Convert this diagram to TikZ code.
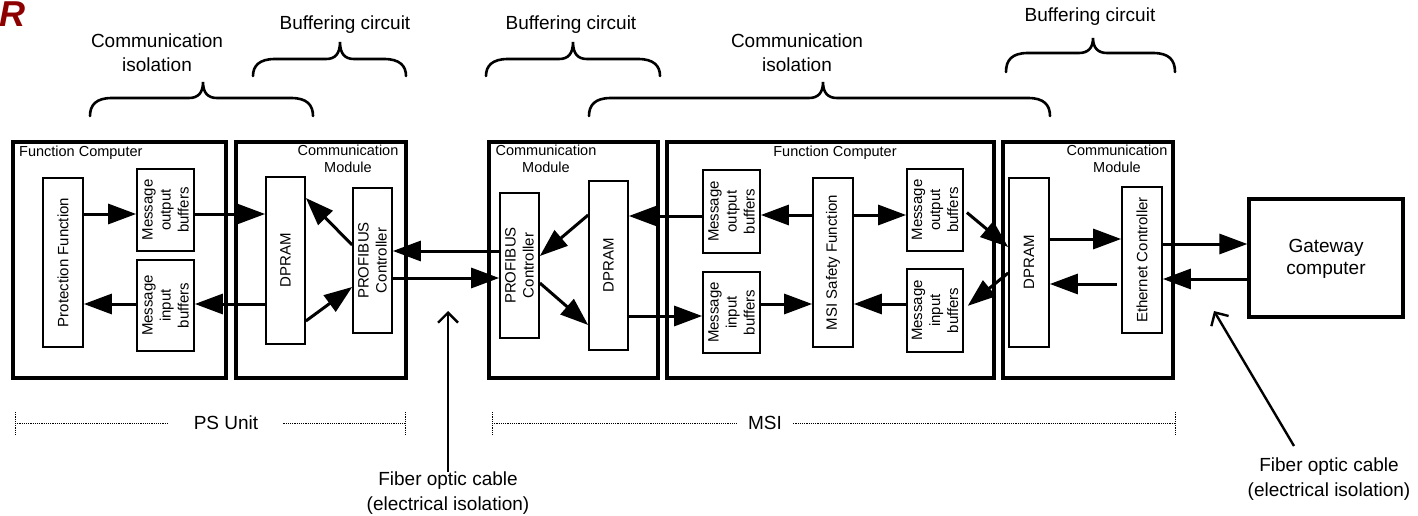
\documentclass[tikz,border=0pt]{standalone}
\usepackage{fontspec}
\setmainfont{Liberation Sans}
\usetikzlibrary{arrows.meta}
\definecolor{darkR}{RGB}{140,0,0}
\newcommand\bracedraw[6]{\draw[bracestyle] (#1,#4) .. controls (#1,#5+7) and (#1+6,#5) .. (#1+22,#5) -- (#3-14,#5) .. controls (#3-5,#5) and (#3,#5-5) .. (#3,#6) .. controls (#3,#5-5) and (#3+5,#5) .. (#3+14,#5) -- (#2-22,#5) .. controls (#2-6,#5) and (#2,#5+7) .. (#2,#4);}
\begin{document}
\begin{tikzpicture}[x=1pt,y=-1pt,line join=miter,
  obox/.style={draw,line width=3.2pt,inner sep=0pt},
  ibox/.style={draw,line width=1.7pt,inner sep=0pt},
  arr/.style={line width=3pt,-{Triangle[length=28pt,width=20pt]}},
  fib/.style={line width=2.4pt,-{Straight Barb[length=10pt,width=20pt]}},
  vtext/.style={rotate=90,align=center,inner sep=0pt,font=\fontsize{15}{18}\selectfont},
  small/.style={align=center,inner sep=0pt,font=\fontsize{14.5}{16.5}\selectfont},
  big/.style={align=center,inner sep=0pt,font=\fontsize{19}{24.5}\selectfont},
  bracestyle/.style={line width=2.6pt,line cap=round},
  dotl/.style={line width=1pt,dash pattern=on 1.2pt off 1pt}]
\useasboundingbox (0,0) rectangle (1418,516);

% corner letter
\node[anchor=base west,inner sep=0pt,text=darkR,font=\fontsize{36}{36}\selectfont\bfseries\itshape] (rr) at (-1,27) {R};

% top braces and labels
\bracedraw{90}{313}{203}{116}{98}{82}
\bracedraw{253}{406}{340}{76}{59}{42}
\bracedraw{486}{660}{573}{76}{59}{42}
\bracedraw{589}{1050}{823}{116}{98}{82}
\bracedraw{1006}{1175}{1093}{72}{53}{38}
\node[big] (ci1) at (157,52.5) {Communication\\isolation};
\node[big] (bc1) at (345,25) {Buffering circuit};
\node[big] (bc2) at (571,25) {Buffering circuit};
\node[big] (ci2) at (797,52.5) {Communication\\isolation};
\node[big] (bc3) at (1090,17) {Buffering circuit};

% outer boxes
\node[obox,minimum width=213pt,minimum height=236pt] (fc1) at (119.5,260) {};
\node[obox,minimum width=170pt,minimum height=236pt] (cm1) at (321,260) {};
\node[obox,minimum width=169pt,minimum height=236pt] (cm2) at (573.5,260) {};
\node[obox,minimum width=327pt,minimum height=236pt] (fc2) at (830.5,260) {};
\node[obox,minimum width=170pt,minimum height=236pt] (cm3) at (1088,260) {};
\node[obox,minimum width=154pt,minimum height=118pt] (gw) at (1326,258) {};
\node[big,font=\fontsize{19}{22}\selectfont] (gwt) at (1326,258.5) {Gateway\\computer};

% box titles
\node[small,anchor=west] (fct1) at (19,153) {Function Computer};
\node[small] (fct2) at (835,153) {Function Computer};
\node[small] (cmt1) at (348,159) {Communication\\Module};
\node[small] (cmt2) at (546,159) {Communication\\Module};
\node[small] (cmt3) at (1117,159) {Communication\\Module};

% inner boxes
\node[ibox,minimum width=40pt,minimum height=169pt] (pf) at (63,262.5) {};
\node[vtext] at (pf) {Protection Function};
\node[ibox,minimum width=57pt,minimum height=82pt] (mob1) at (165.5,210) {};
\node[vtext] at (mob1) {Message\\output\\buffers};
\node[ibox,minimum width=57pt,minimum height=91pt] (mib1) at (165.5,305.5) {};
\node[vtext] at (mib1) {Message\\input\\buffers};
\node[ibox,minimum width=39pt,minimum height=167pt] (dp1) at (285.5,260.5) {};
\node[vtext] at (dp1) {DPRAM};
\node[ibox,minimum width=39pt,minimum height=145pt] (pc1) at (372.5,260.5) {};
\node[vtext] at (pc1) {PROFIBUS\\Controller};

\node[ibox,minimum width=39pt,minimum height=145pt] (pc2) at (519.5,265.5) {};
\node[vtext] at (pc2) {PROFIBUS\\Controller};
\node[ibox,minimum width=39pt,minimum height=169pt] (dp2) at (608.5,265.5) {};
\node[vtext] at (dp2) {DPRAM};

\node[ibox,minimum width=57pt,minimum height=83pt] (mob2) at (731.5,211.5) {};
\node[vtext] at (mob2) {Message\\output\\buffers};
\node[ibox,minimum width=57pt,minimum height=81pt] (mib2) at (731.5,312.5) {};
\node[vtext] at (mib2) {Message\\input\\buffers};
\node[ibox,minimum width=40pt,minimum height=169pt] (msi) at (833,262.5) {};
\node[vtext] at (msi) {MSI Safety Function};
\node[ibox,minimum width=56pt,minimum height=82pt] (mob3) at (935,210) {};
\node[vtext] at (mob3) {Message\\output\\buffers};
\node[ibox,minimum width=56pt,minimum height=83pt] (mib3) at (935,310.5) {};
\node[vtext] at (mib3) {Message\\input\\buffers};

\node[ibox,minimum width=40pt,minimum height=169pt] (dp3) at (1029,262.5) {};
\node[vtext] at (dp3) {DPRAM};
\node[ibox,minimum width=40pt,minimum height=146pt] (ec) at (1142,260) {};
\node[vtext] at (ec) {Ethernet Controller};

% connectors
\draw[arr] (pf.east |- 0,214) -- (mob1.west |- 0,214);
\draw[arr] (mob1.east |- 0,214) -- (dp1.west |- 0,214);
\draw[arr] (dp1.west |- 0,304) -- (mib1.east |- 0,304);
\draw[arr] (mib1.west |- 0,304) -- (pf.east |- 0,304);
\draw[arr] (pc1.west |- 0,245) -- (dp1.east |- 0,198);
\draw[arr] (dp1.east |- 0,321) -- (pc1.west |- 0,287);
\draw[arr] (pc2.west |- 0,251) -- (pc1.east |- 0,251);
\draw[arr] (pc1.east |- 0,278) -- (pc2.west |- 0,278);
\draw[arr] (dp2.west |- 0,215) -- (pc2.east |- 0,256);
\draw[arr] (pc2.east |- 0,283) -- (dp2.west |- 0,325);
\draw[arr] (mob2.west |- 0,216) -- (dp2.east |- 0,216);
\draw[arr] (dp2.east |- 0,316) -- (mib2.west |- 0,316);
\draw[arr] (msi.west |- 0,215) -- (mob2.east |- 0,215);
\draw[arr] (msi.east |- 0,215) -- (mob3.west |- 0,215);
\draw[arr] (mib2.east |- 0,304) -- (msi.west |- 0,304);
\draw[arr] (mib3.west |- 0,304) -- (msi.east |- 0,304);
\draw[arr,shorten <=4pt] (mob3.east |- 0,210) -- (dp3.west |- 0,247);
\draw[arr,shorten >=5pt] (dp3.west |- 0,273) -- (mib3.east |- 0,309);
\draw[arr] (dp3.east |- 0,239) -- (ec.west |- 0,239);
\draw[arr,shorten <=4pt] (ec.west |- 0,284) -- (dp3.east |- 0,284);
\draw[arr] (ec.east |- 0,244) -- (gw.west |- 0,244);
\draw[arr] (gw.west |- 0,279) -- (ec.east |- 0,279);

% fiber optic callouts
\node[big] (fo1) at (448,493) {Fiber optic cable\\(electrical isolation)};
\coordinate (fo1tip) at (448,311);
\draw[fib] (fo1.north) -- (fo1tip);
\node[big] (fo2) at (1329,479) {Fiber optic cable\\(electrical isolation)};
\coordinate (fo2s) at (1294,446);
\coordinate (fo2tip) at (1214,311);
\draw[fib] (fo2s) -- (fo2tip);

% unit scales
\node[big,inner xsep=25pt,inner ysep=0pt] (psu) at (226,423) {PS Unit};
\coordinate (ps0) at (15,423);
\coordinate (ps1) at (405,423);
\draw[dotl] (ps0) -- (psu.west) (psu.east) -- (ps1);
\draw[dotl] (15,412) -- (15,435) (405,412) -- (405,435);
\node[big,inner xsep=11pt,inner ysep=0pt] (msiu) at (765,423) {MSI};
\coordinate (ms0) at (492,423);
\coordinate (ms1) at (1175,423);
\draw[dotl] (ms0) -- (msiu.west) (msiu.east) -- (ms1);
\draw[dotl] (492,412) -- (492,435) (1175,412) -- (1175,435);
\end{tikzpicture}
\end{document}
